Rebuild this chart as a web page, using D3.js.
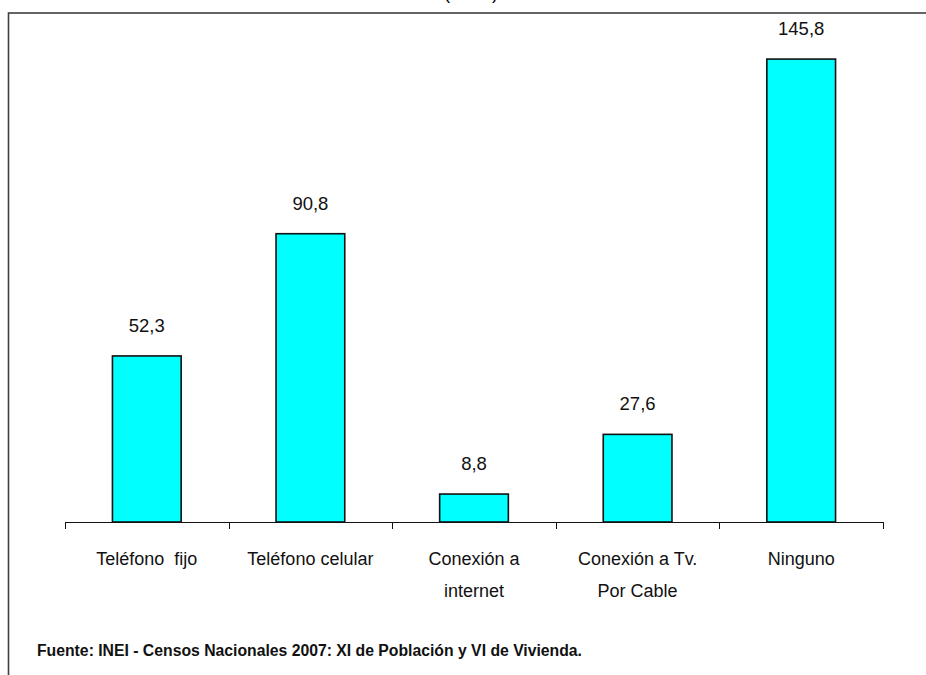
<!DOCTYPE html>
<html><head><meta charset="utf-8">
<script src="https://cdn.jsdelivr.net/npm/d3@7"></script>
<style>body{margin:0;background:#fff}svg{display:block}</style>
</head><body>
<script>
const categories = [["Teléfono  fijo"],["Teléfono celular"],["Conexión a","internet"],["Conexión a Tv.","Por Cable"],["Ninguno"]];
const values = [52.3, 90.8, 8.8, 27.6, 145.8];
const valueLabels = ["52,3","90,8","8,8","27,6","145,8"];
const titleText = "(Miles)";
const sourceText = "Fuente: INEI - Censos Nacionales 2007: XI de Población y VI de Vivienda.";

const W = 926, H = 675;
const svg = d3.select("body").append("svg").attr("width", W).attr("height", H);
const font = "'Liberation Sans', Arial, sans-serif";

// frame
svg.append("rect").attr("x", 8.5).attr("y", 13).attr("width", 1000).attr("height", 1000)
  .attr("fill", "none").attr("stroke", "#404040").attr("stroke-width", 1.6);

// title (cut off at top edge, as in the reference)
svg.append("text").attr("x", 471).attr("y", -1.5).attr("text-anchor", "middle")
  .attr("font-family", font).attr("font-size", 18).attr("fill", "#000").text(titleText);

const x = d3.scaleBand().domain(d3.range(values.length)).range([65, 883]).paddingInner(0.58).paddingOuter(0.29);
const y = d3.scaleLinear().domain([0, 160]).range([522, 14]);

// bars
svg.selectAll("rect.bar").data(values).join("rect").attr("class", "bar")
  .attr("x", (d, i) => x(i)).attr("width", x.bandwidth())
  .attr("y", d => y(d)).attr("height", d => y(0) - y(d))
  .attr("fill", "#00FFFF").attr("stroke", "#111").attr("stroke-width", 1.6);

// value labels
svg.selectAll("text.val").data(values).join("text").attr("class", "val")
  .attr("x", (d, i) => x(i) + x.bandwidth() / 2).attr("y", d => y(d) - 24)
  .attr("text-anchor", "middle").attr("font-family", font).attr("font-size", 18.5).attr("fill", "#111")
  .text((d, i) => valueLabels[i]);

// axis
const tickPos = d3.range(values.length + 1).map(i => 65 + i * (818 / values.length));
svg.append("line").attr("x1", 65).attr("x2", 883).attr("y1", 522.5).attr("y2", 522.5)
  .attr("stroke", "#111").attr("stroke-width", 1.2);
svg.selectAll("line.tick").data(tickPos).join("line").attr("class", "tick")
  .attr("x1", d => Math.round(d) + 0.5).attr("x2", d => Math.round(d) + 0.5)
  .attr("y1", 522).attr("y2", 529).attr("stroke", "#111").attr("stroke-width", 1);

// category labels
const cl = svg.selectAll("text.cat").data(categories).join("text").attr("class", "cat")
  .attr("text-anchor", "middle").attr("font-family", font).attr("font-size", 18).attr("fill", "#111")
  .attr("transform", (d, i) => `translate(${x(i) + x.bandwidth() / 2},565)`);
cl.selectAll("tspan").data(d => d).join("tspan").attr("x", 0).attr("dy", (d, j) => j === 0 ? 0 : 32)
  .attr("xml:space", "preserve").style("white-space", "pre").text(d => d);

// source
svg.append("text").attr("x", 37).attr("y", 656).attr("font-family", font).attr("font-weight", "bold")
  .attr("font-size", 16).attr("fill", "#111").attr("textLength", 545).attr("lengthAdjust", "spacingAndGlyphs")
  .text(sourceText);
</script>
</body></html>
